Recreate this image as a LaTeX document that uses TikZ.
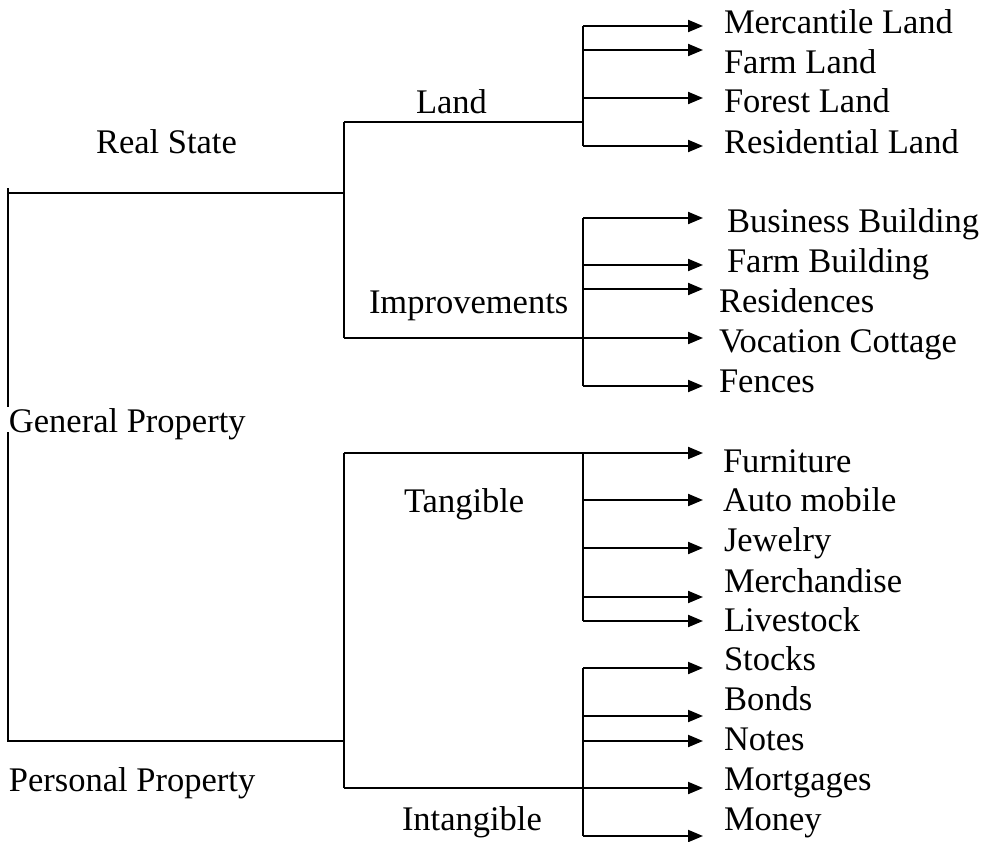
\documentclass[tikz,border=0pt]{standalone}
\usepackage{fontspec}
\setmainfont{Liberation Serif}
\usetikzlibrary{arrows.meta}

\tikzset{
	lbl/.style={anchor=base west, inner sep=0pt, font=\fontsize{34.5}{40}\selectfont},
	leaf/.style={lbl},
	arr/.style={-{Triangle[length=15pt, width=12pt]}}
}

\begin{document}
\begin{tikzpicture}[x=1pt, y=-1pt, line width=2pt]
	 \useasboundingbox (0,0) rectangle (982,841);

	 % branch labels
	 \node[lbl] (real) at (95,153) {Real State};
	 \node[lbl] (land) at (415,113) {Land};
	 \node[lbl] (impr) at (368,313) {Improvements};
	 \node[lbl] (gen) at (8,432) {General Property};
	 \node[lbl] (pers) at (8,791) {Personal Property};
	 \node[lbl] (tang) at (403,512) {Tangible};
	 \node[lbl] (intang) at (401,830) {Intangible};

	 % leaves: name/x/baseline/arrow y/text
	 \foreach \n/\lx/\b/\a/\t in {merc/723/33/26/Mercantile Land, farml/723/73/50/Farm Land,
	 	forest/723/112/98/Forest Land, resl/723/153/146/Residential Land,
	 	busb/726/232/218/Business Building, farmb/726/272/265/Farm Building,
	 	resid/718/312/289/Residences, vocat/718/352/338/Vocation Cottage, fence/718/392/386/Fences,
	 	furn/722/472/453/Furniture, auto/722/511/500/Auto mobile, jewel/723/551/548/Jewelry,
	 	merch/723/592/597/Merchandise, live/723/631/621/Livestock,
	 	stock/723/670/668/Stocks, bond/723/710/716/Bonds, note/723/750/741/Notes,
	 	mort/723/790/788/Mortgages, money/723/830/836/Money}
	 {
	 	\node[leaf] (\n) at (\lx,\b) {\t};
	 	\coordinate (\n-j) at (583,\a);
	 	\coordinate (\n-e) at (703,\a);
	 }

	 \coordinate (g0) at (8,188);
	 \coordinate (g1) at (8,741);
	 \coordinate (rs) at (344,193);
	 \coordinate (pp) at (344,741);
	 \coordinate (la) at (344,122);
	 \coordinate (lb) at (583,122);
	 \coordinate (im) at (344,338);
	 \coordinate (ta) at (344,453);
	 \coordinate (ia) at (344,788);

	 % trunk
	 \draw (g0) -- (gen.north -| g0);
	 \draw (gen.base -| g0) -- (g1) -- (pp);
	 \draw (g0 |- rs) -- (rs);

	 % real state
	 \draw (la) -- (im);
	 \draw (la) -- (lb);
	 \draw (merc-j) -- (resl-j);
	 \foreach \n in {merc, farml, forest, resl}
	 \draw[arr] (\n-j) -- (\n-e);
	 \draw (busb-j) -- (fence-j);
	 \draw[arr] (im) -- (vocat-e);
	 \foreach \n in {busb, farmb, resid, fence}
	 \draw[arr] (\n-j) -- (\n-e);

	 % personal property
	 \draw (ta) -- (ia);
	 \draw[arr] (ta) -- (furn-e);
	 \draw (furn-j) -- (live-j);
	 \foreach \n in {auto, jewel, merch, live}
	 \draw[arr] (\n-j) -- (\n-e);
	 \draw (stock-j) -- (money-j);
	 \draw[arr] (ia) -- (mort-e);
	 \foreach \n in {stock, bond, note, money}
	 \draw[arr] (\n-j) -- (\n-e);
\end{tikzpicture}
\end{document}
